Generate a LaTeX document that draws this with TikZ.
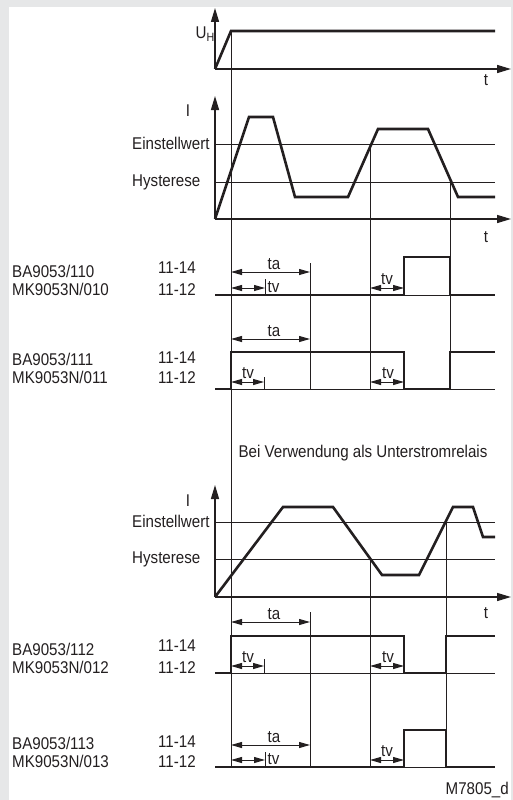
\documentclass[tikz,border=0pt]{standalone}
\usepackage{fontspec}
\setmainfont[FakeStretch=0.89]{Liberation Sans}
\usetikzlibrary{arrows.meta}
\definecolor{bggray}{HTML}{E6E7E8}
\definecolor{ink}{HTML}{231F20}
\begin{document}
\begin{tikzpicture}[x=1pt,y=-1pt,
  sig/.style={draw=ink, line width=2.6pt, line join=miter},
  thn/.style={draw=ink, line width=0.9pt},
  axis/.style={draw=ink, line width=1.4pt, -{Triangle[length=14pt,width=8pt]}},
  dimarrow/.style={draw=ink, line width=1pt, {Triangle[length=11pt,width=6pt]}-{Triangle[length=11pt,width=6pt]}},
  txt/.style={font=\fontsize{17}{17}\selectfont, inner sep=0pt, text=ink}]
\fill[bggray] (0,0) rectangle (513,800);
\fill[white] (9,7) rectangle (511,800);
\useasboundingbox (0,0) rectangle (513,800);

% ---------- diagram 1: U_H ----------
\draw[axis] (215,69) -- (215,8);
\draw[axis] (215,69) -- (511,69);
\node[txt] (t1) at (486,80) {t};
\node[txt, anchor=base] (uh) at (205,38) {U\raisebox{-0.35ex}{\fontsize{12}{12}\selectfont H}};
\draw[sig] (215,69) -- (231,31) -- (495,31);
\draw[thn] (231,31) -- (231,767);

% ---------- diagram 2: I (overcurrent) ----------
\draw[axis] (215,219) -- (215,96);
\draw[axis] (215,219) -- (511,219);
\node[txt, anchor=base] (i1) at (188,116) {I};
\node[txt, anchor=base west] (e1) at (132,149) {Einstellwert};
\node[txt, anchor=base west] (h1) at (132,186) {Hysterese};
\node[txt] (t2) at (486,237) {t};
\draw[thn] (215,144) -- (495,144);
\draw[thn] (215,182) -- (495,182);
\draw[sig] (215,219) -- (249,117) -- (273,117) -- (295,197) -- (348,197) -- (378,129) -- (428,129) -- (458,197) -- (495,197);
\draw[thn] (370,144) -- (370,389);
\draw[thn] (450,182) -- (450,389);

% ---------- relay 1 ----------
\node[txt, anchor=base west] (ba1) at (12,277) {BA9053/110};
\node[txt, anchor=base west] (mk1) at (12,295) {MK9053N/010};
\node[txt, anchor=base west] (a1) at (158,273) {11-14};
\node[txt, anchor=base west] (b1) at (158,295) {11-12};
\draw[sig] (215,295) -- (404,295);
\draw[sig] (450,295) -- (495,295);
\draw[thn] (404,295) -- (450,295);
\draw[sig] (404,295) -- (404,257) -- (450,257) -- (450,295);
\draw[thn] (310,263) -- (310,389);
\draw[dimarrow] (231,272) -- (310,272);
\node[txt, anchor=base] (ta1) at (274,269.5) {ta};
\draw[dimarrow] (231,288) -- (265,288);
\draw[thn] (265,279) -- (265,295);
\node[txt, anchor=base west] (tv1) at (267.5,292.5) {tv};
\draw[dimarrow] (370,288) -- (404,288);
\node[txt, anchor=base] (tv1b) at (387,284.5) {tv};

% ---------- relay 2 ----------
\node[txt, anchor=base west] (ba2) at (12,365) {BA9053/111};
\node[txt, anchor=base west] (mk2) at (12,383) {MK9053N/011};
\node[txt, anchor=base west] (a2) at (158,363) {11-14};
\node[txt, anchor=base west] (b2) at (158,383) {11-12};
\draw[dimarrow] (231,339) -- (310,339);
\node[txt, anchor=base] (ta2) at (274,336.5) {ta};
\draw[thn] (231,389) -- (404,389);
\draw[thn] (450,389) -- (495,389);
\draw[sig] (215,389) -- (231,389) -- (231,352) -- (404,352) -- (404,389) -- (450,389) -- (450,352) -- (495,352);
\draw[dimarrow] (231,382) -- (264,382);
\draw[thn] (264,377) -- (264,389);
\node[txt, anchor=base] (tv2) at (248,378.5) {tv};
\draw[dimarrow] (370,382) -- (404,382);
\node[txt, anchor=base] (tv2b) at (388,378.5) {tv};

% ---------- caption ----------
\node[txt] (cap) at (363,453) {Bei Verwendung als Unterstromrelais};

% ---------- diagram 3: I (undercurrent) ----------
\draw[axis] (215,597) -- (215,485);
\draw[axis] (215,597) -- (511,597);
\node[txt, anchor=base] (i2) at (188,506) {I};
\node[txt, anchor=base west] (e2) at (132,527) {Einstellwert};
\node[txt, anchor=base west] (h2) at (132,563) {Hysterese};
\node[txt] (t3) at (486,613) {t};
\draw[thn] (215,522) -- (495,522);
\draw[thn] (215,559) -- (495,559);
\draw[sig] (215,597) -- (283,507) -- (333,507) -- (382,575) -- (419,575) -- (453,507) -- (473,507) -- (483,537) -- (495,537);
\draw[thn] (370,559) -- (370,767);
\draw[thn] (446,522) -- (446,767);

% ---------- relay 3 ----------
\node[txt, anchor=base west] (ba3) at (12,655) {BA9053/112};
\node[txt, anchor=base west] (mk3) at (12,673) {MK9053N/012};
\node[txt, anchor=base west] (a3) at (158,651) {11-14};
\node[txt, anchor=base west] (b3) at (158,673) {11-12};
\draw[thn] (310,612) -- (310,767);
\draw[dimarrow] (231,622) -- (310,622);
\node[txt, anchor=base] (ta3) at (274,619.5) {ta};
\draw[thn] (231,673) -- (404,673);
\draw[thn] (446,673) -- (495,673);
\draw[sig] (215,673) -- (231,673) -- (231,636) -- (404,636) -- (404,673) -- (446,673) -- (446,636) -- (495,636);
\draw[dimarrow] (231,666) -- (264,666);
\draw[thn] (264,659) -- (264,673);
\node[txt, anchor=base] (tv3) at (248,662.5) {tv};
\draw[dimarrow] (370,666) -- (404,666);
\node[txt, anchor=base] (tv3b) at (388,662.5) {tv};

% ---------- relay 4 ----------
\node[txt, anchor=base west] (ba4) at (12,749) {BA9053/113};
\node[txt, anchor=base west] (mk4) at (12,767) {MK9053N/013};
\node[txt, anchor=base west] (a4) at (158,747) {11-14};
\node[txt, anchor=base west] (b4) at (158,767) {11-12};
\draw[sig] (215,767) -- (404,767);
\draw[sig] (446,767) -- (495,767);
\draw[thn] (404,767) -- (446,767);
\draw[sig] (404,767) -- (404,730) -- (446,730) -- (446,767);
\draw[dimarrow] (231,745) -- (310,745);
\node[txt, anchor=base] (ta4) at (274,742.5) {ta};
\draw[dimarrow] (231,760) -- (265,760);
\draw[thn] (265,752) -- (265,767);
\node[txt, anchor=base west] (tv4) at (267.5,764.5) {tv};
\draw[dimarrow] (370,760) -- (404,760);
\node[txt, anchor=base] (tv4b) at (387,756.5) {tv};

\node[txt, anchor=base east] (code) at (509,794) {M7805\_d};
\end{tikzpicture}
\end{document}
